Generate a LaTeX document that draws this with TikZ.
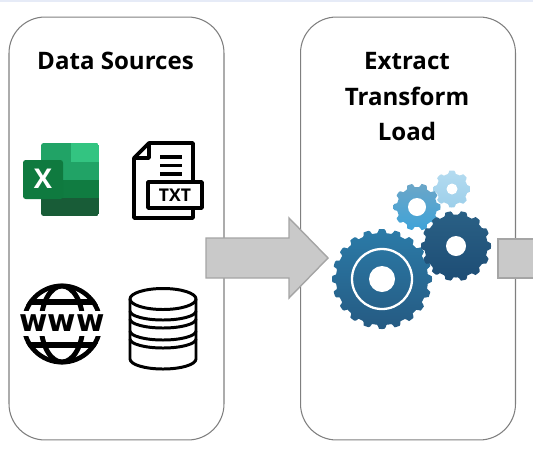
\documentclass[tikz,border=0pt]{standalone}
\usepackage{fontspec}
\setmainfont{Open Sans}
\newfontfamily\wwwfont{DejaVu Sans}
\usepackage{tikz}
\usepackage{xcolor}
\usetikzlibrary{positioning}
\definecolor{panelline}{HTML}{7F7F7F}
\definecolor{arrowfill}{HTML}{C9C9C9}
\definecolor{arrowline}{HTML}{A5A5A5}
\definecolor{topstrip}{HTML}{E6EBF7}
\definecolor{xlA}{HTML}{21A366}
\definecolor{xlB}{HTML}{33C481}
\definecolor{xlC}{HTML}{107C41}
\definecolor{xlD}{HTML}{185C37}
\definecolor{xlE}{HTML}{0F7A3F}
\definecolor{gearlightA}{HTML}{B4DBF0}
\definecolor{gearlightB}{HTML}{9CCFEA}
\definecolor{gearmidA}{HTML}{6BA6C8}
\definecolor{gearmidB}{HTML}{3FA3D8}
\definecolor{gearbigA}{HTML}{2B7BA8}
\definecolor{gearbigB}{HTML}{255A82}
\definecolor{geardarkA}{HTML}{2A6085}
\definecolor{geardarkB}{HTML}{1D4D75}
\tikzset{
    panelbox/.style={draw=panelline, line width=0.6pt, rounded corners=0.72cm, minimum width=4.3cm, minimum height=8.46cm},
    paneltitle/.style={font=\fontsize{13.7}{14}\selectfont\bfseries, text=black},
    flowarrow/.style={draw=arrowline, line width=0.8pt, fill=arrowfill},
    iconline/.style={draw=black, line width=1.7pt, line join=round},
    txtline/.style={draw=black, line width=2.1pt, line join=round}
}
% gear: x, y, radius, depth of teeth, teeth, hole, top colour, bottom colour
\newcommand{\gearat}[8]{
    \begin{scope}[shift={(#1,#2)}]
        \shade[top color=#7, bottom color=#8]
            plot[samples=#5*12, domain=0:360, variable=\t]
            ({(#3-#4+#4*min(1,max(0,0.5+1.4*cos(#5*\t))))*cos(\t)},
             {(#3-#4+#4*min(1,max(0,0.5+1.4*cos(#5*\t))))*sin(\t)}) -- cycle;
        \fill[white] (0,0) circle[radius=#6];
    \end{scope}
}
\begin{document}
\begin{tikzpicture}[x=0.02cm,y=-0.02cm]
        \useasboundingbox (0,0) rectangle (533,450);
        \fill[topstrip] (0,0) rectangle (533,1.5);
        % Panels
        \node[panelbox] (sources) at (116.5,228.5) {};
        \node[panelbox] (etl) at (408,228.5) {};
        % Titles
        \node[paneltitle] (sourcestitle) at (115.5,61) {Data Sources};
        \node[paneltitle] (extract) at (407,61) {Extract};
        \node[paneltitle] (transform) at (407,96) {Transform};
        \node[paneltitle] (load) at (407,131) {Load};
        % Block arrows
        \draw[flowarrow] (206,238) -- (289,238) -- (289,218) -- (328,258) -- (289,298) -- (289,278) -- (206,278) -- cycle;
        \draw[flowarrow] (498,239) -- (540,239) -- (540,278) -- (498,278) -- cycle;
        % Excel icon
        \begin{scope}
            \clip[rounded corners=1.5pt] (41,143) rectangle (99,216);
            \fill[xlA] (41,143) rectangle (71,162);
            \fill[xlB] (71,143) rectangle (99,162);
            \fill[xlA] (41,162) rectangle (99,180);
            \fill[xlC] (41,180) rectangle (99,198);
            \fill[xlD] (41,198) rectangle (99,216);
        \end{scope}
        \fill[xlE, rounded corners=1.5pt] (23,160) rectangle (63,199);
        \node[font=\fontsize{15.5}{16}\selectfont\bfseries, text=white] (excelx) at (43,179) {X};
        % TXT icon
        \draw[txtline] (134,158) -- (149,143) -- (193,143) -- (193,218) -- (134,218) -- cycle;
        \draw[txtline] (134,158) -- (149,158) -- (149,143);
        \foreach \ypos in {157,165.5,174} {
            \draw[black, line width=1.8pt] (160,\ypos) -- (182,\ypos);
        }
        \draw[txtline, fill=white] (148,182) rectangle (202,208);
        \node[font=\fontsize{10}{10}\selectfont\bfseries, text=black] (txtlabel) at (175,195) {TXT};
        % WWW globe
        \begin{scope}
            \clip (62,324) circle[radius=40.5];
            \draw[black, line width=3pt] (62,324) circle[radius=38.5];
            \draw[black, line width=2.8pt] (62,324) ellipse[x radius=21, y radius=38];
            \draw[black, line width=3pt] (20,302) -- (104,302);
            \draw[black, line width=3pt] (20,345) -- (104,345);
        \end{scope}
        \fill[white] (18,311) rectangle (106,336);
        \node[font=\wwwfont\fontsize{17.5}{18}\selectfont\bfseries, text=black, inner sep=0pt] (wwwlabel) at (62,323.5) {www};
        % Database icon
        \draw[iconline] (130,299) -- (130,359) arc[start angle=180, end angle=0, x radius=33, y radius=10] -- (196,299);
        \draw[iconline] (163,299) ellipse[x radius=33, y radius=10.5];
        \foreach \ypos in {311,319,331,339} {
            \draw[iconline] (130,\ypos) arc[start angle=180, end angle=0, x radius=33, y radius=9];
        }
        % Gears
        \gearat{452}{189}{18.5}{3}{8}{5.5}{gearlightA}{gearlightB}
        \gearat{417}{207}{23.5}{3.5}{10}{9}{gearmidA}{gearmidB}
        \gearat{382}{279}{50}{4}{20}{13}{gearbigA}{gearbigB}
        \draw[white, line width=1.3pt] (382,279) circle[radius=30];
        \gearat{456}{246}{35}{3.5}{14}{10}{geardarkA}{geardarkB}
\end{tikzpicture}
\end{document}
